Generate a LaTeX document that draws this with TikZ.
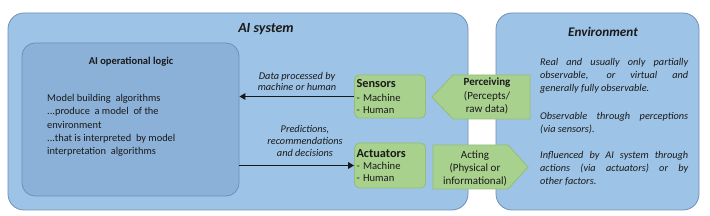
\documentclass[tikz,border=0pt]{standalone}
\usepackage{fontspec}
\setmainfont{Carlito}
\usetikzlibrary{arrows.meta}
\definecolor{outerblue}{HTML}{9DC3E6}
\definecolor{outerline}{HTML}{7090B8}
\definecolor{innerblue}{HTML}{8BB1D9}
\definecolor{innerline}{HTML}{6C8FBC}
\definecolor{greenfill}{HTML}{A9D18E}
\definecolor{greenline}{HTML}{93BE74}
\definecolor{txt}{HTML}{1A1A1A}
\begin{document}
\begin{tikzpicture}[x=1pt,y=-1pt,
  outerbox/.style={draw=outerline, line width=0.8pt, fill=outerblue, rounded corners=16pt, inner sep=0pt},
  logicbox/.style={draw=innerline, line width=0.8pt, fill=innerblue, rounded corners=13pt, inner sep=0pt},
  greenbox/.style={draw=greenline, line width=0.8pt, fill=greenfill, rounded corners=5pt, inner sep=2pt, align=left, text width=67pt, text=txt},
  greenarrow/.style={draw=greenline, line width=0.8pt, fill=greenfill},
  flow/.style={line width=1.7pt, draw=black!90, -{Triangle[length=6pt,width=6.5pt]}},
  lbl/.style={font=\itshape\fontsize{10.3}{11.6}\selectfont, align=center, text=txt, inner sep=0pt},
  title/.style={font=\bfseries\itshape\fontsize{14}{16}\selectfont, text=txt, inner sep=0pt},
  envtext/.style={font=\itshape\fontsize{10.3}{12.9}\selectfont, text width=148pt, align=justify, anchor=north west, inner sep=0pt, text=txt}
]
\useasboundingbox (0,0) rectangle (710,216);
\fill[white] (0,0) rectangle (710,216);

% big boxes
\node[outerbox, minimum width=460pt, minimum height=197pt] (aisys) at (238,111.5) {};
\node[outerbox, minimum width=203pt, minimum height=197pt] (env) at (597.5,111.5) {};
\node[logicbox, minimum width=217pt, minimum height=153pt] (logic) at (130.5,119.5) {};

% titles
\node[title] (aititle) at (266,29) {AI system};
\node[title, font=\bfseries\itshape\fontsize{13.2}{16}\selectfont] (envtitle) at (603,32) {Environment};
\node[font=\bfseries\fontsize{10.5}{12}\selectfont, text=txt, inner sep=0pt] (logictitle) at (131,62) {AI operational logic};

% logic body
\node[anchor=north west, align=left, inner sep=0pt, text=txt, font=\fontsize{10.4}{13.3}\selectfont] (logictext) at (47,94)
 {Model building\ \ algorithms\\
  ...produce\ \ a model\ \ of the\\
  environment\\
  ...that is interpreted\ \ by model\\
  interpretation\ \ algorithms};

% sensors / actuators
\node[greenbox, minimum height=43pt] (sensors) at (390,96.5)
 {{\bfseries\fontsize{12.3}{13}\selectfont Sensors}\\[0.5pt]{\fontsize{10.6}{13}\selectfont - Machine\\- Human}};
\node[greenbox, minimum height=45pt] (actuators) at (390,165.5)
 {{\bfseries\fontsize{12.3}{13}\selectfont Actuators}\\[-1pt]{\fontsize{10.6}{12.5}\selectfont - Machine\\- Human}};

% perceiving / acting pentagon arrows
\draw[greenarrow] (432,97) -- (453,75) -- (530,75) -- (530,119) -- (453,119) -- cycle;
\node[align=center, inner sep=0pt, text=txt, font=\fontsize{11}{13.5}\selectfont] (perc) at (487,96)
 {\textbf{Perceiving}\\(Percepts/\\raw data)};
\draw[greenarrow] (433,145) -- (508,145) -- (528,167) -- (508,189) -- (433,189) -- cycle;
\node[align=center, inner sep=0pt, text=txt, font=\fontsize{11}{13}\selectfont] (act) at (475,168)
 {Acting\\(Physical or\\informational)};

% flows
\draw[flow] (sensors.west) -- (logic.east |- sensors.west);
\draw[flow] (logic.east |- actuators.west) -- (actuators.west);
\node[lbl] (lbl1) at (297,81.5) {Data processed by\\machine or human};
\node[lbl] (lbl2) at (305,141) {Predictions,\\recommendations\\and decisions};

% environment text
\node[envtext] (env1) at (540,58) {Real and usually only partially\linebreak observable, or virtual and\linebreak generally fully observable.};
\node[envtext] (env2) at (540,112) {Observable through perceptions\linebreak (via sensors).};
\node[envtext] (env3) at (540,151.5) {Influenced by AI system through\linebreak actions (via actuators) or by\linebreak other factors.};
\end{tikzpicture}
\end{document}
